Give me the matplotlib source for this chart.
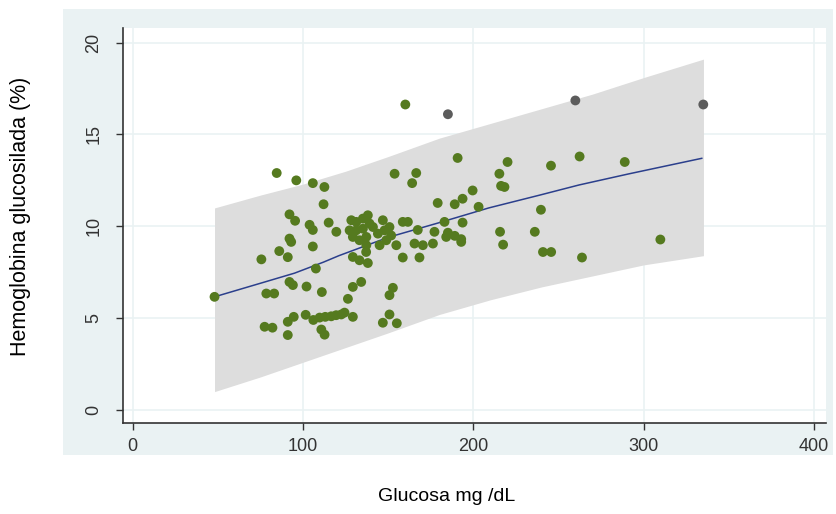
import numpy as np
import matplotlib.pyplot as plt
from matplotlib.patches import Rectangle

plt.rcParams['font.family'] = ['Liberation Sans', 'DejaVu Sans']

# puntos dentro del intervalo (verde)
glu_green = [48, 84.5, 96, 105.7, 112.5, 112, 92, 95.3, 103.8, 105.7, 115, 92, 93, 86, 105.7,
             75.5, 91, 107.5, 92, 94, 102, 111, 78.4, 83, 77.4, 82, 91, 91, 94.5, 101.5,
             106, 109.7, 113, 116.5, 119.4, 122.4, 124.3, 129.2, 110.7, 112.6, 146.8, 150.7,
             155, 126.3, 129.2, 134.1, 150.7, 152.7, 158.5, 168.3, 129.2, 133.1, 138, 137,
             153.7, 166.4, 164, 179, 119.5, 128.3, 131.2, 135.1, 138, 139, 127.3, 131.2,
             135.1, 141, 129.2, 133.1, 137.1, 143.9, 147.8, 150.7, 146.8, 151.7, 148.8,
             144.9, 137.1, 154.7, 158.5, 161.5, 167.3, 177.1, 165.4, 170.3, 176.2, 183, 184,
             190.7, 220, 215.2, 218.2, 216.2, 245.5, 262.3, 199.5, 189, 193.6, 203, 193.6,
             239.6, 185, 189, 192.8, 192.8, 215.6, 217.4, 236, 240.8, 245.6, 263.7, 288.8,
             309.7, 160]
hb_green = [6.16, 12.9, 12.5, 12.35, 12.14, 11.2, 10.65, 10.3, 10.08, 9.8, 10.2, 9.33, 9.15, 8.65, 8.9,
            8.2, 8.32, 7.7, 6.97, 6.8, 6.72, 6.42, 6.34, 6.34, 4.53, 4.48, 4.08, 4.8, 5.07, 5.18,
            4.9, 5.03, 5.07, 5.1, 5.16, 5.2, 5.3, 5.07, 4.38, 4.1, 4.75, 5.2,
            4.72, 6.05, 6.7, 6.97, 6.25, 6.65, 8.3, 8.3, 8.33, 8.15, 8.0, 8.6,
            12.86, 12.9, 12.35, 11.27, 9.7, 10.33, 10.24, 10.42, 10.6, 10.15, 9.78, 9.78,
            9.87, 9.96, 9.42, 9.24, 9.42, 9.6, 9.78, 9.96, 10.33, 9.5, 9.24,
            8.97, 8.97, 8.97, 10.24, 10.24, 9.8, 9.7, 9.06, 8.97, 9.06, 10.24, 9.42,
            13.72, 13.5, 12.86, 12.14, 12.2, 13.3, 13.8, 11.95, 11.2, 11.5, 11.06, 10.2,
            10.9, 9.65, 9.48, 9.3, 9.15, 9.7, 9.0, 9.7, 8.6, 8.6, 8.3, 13.5,
            9.28, 16.63]

# puntos fuera (gris)
glu_grey = [185, 259.8, 334.9]
hb_grey = [16.1, 16.85, 16.63]

# ajuste y banda de prediccion
glu_fit = [48, 75, 95, 112, 121, 150, 180, 209, 239, 262, 291, 334]
hb_fit = [6.16, 6.9, 7.45, 8.05, 8.4, 9.4, 10.2, 11.0, 11.7, 12.25, 12.85, 13.7]

glu_band = [48, 75, 100, 125, 150, 180, 210, 240, 270, 300, 335]
band_low = [1.0, 1.8, 2.6, 3.4, 4.2, 5.2, 6.0, 6.7, 7.3, 7.9, 8.4]
band_high = [11.0, 11.7, 12.3, 13.0, 13.8, 14.8, 15.6, 16.4, 17.2, 18.1, 19.1]

fig = plt.figure(figsize=(8.37, 5.14), dpi=100)
fig.patch.set_facecolor('white')
fig.patches.append(Rectangle((0.0753, 0.115), 0.92, 0.868, transform=fig.transFigure,
                             facecolor='#EAF2F3', edgecolor='none', zorder=0))

ax = fig.add_axes([0.147, 0.177, 0.84, 0.768])
ax.set_facecolor('white')
ax.set_zorder(1)

ax.fill_between(glu_band, band_low, band_high, color='#DDDDDD', linewidth=0, zorder=1)
ax.plot(glu_fit, hb_fit, color='#2B3F8C', linewidth=1.1, zorder=2)
ax.scatter(glu_green, hb_green, s=50, color='#557A1F', edgecolors='none', zorder=3)
ax.scatter(glu_grey, hb_grey, s=50, color='#5C5C5C', edgecolors='none', zorder=3)

ax.set_xlim(-5.7, 407)
ax.set_ylim(-0.71, 20.78)
ax.set_xticks([0, 100, 200, 300, 400])
ax.set_yticks([0, 5, 10, 15, 20])
ax.grid(True, color='#EAF2F3', linewidth=1.2, zorder=0)
ax.set_axisbelow(True)

for s in ['top', 'right']:
    ax.spines[s].set_visible(False)
for s in ['left', 'bottom']:
    ax.spines[s].set_color('#333333')
    ax.spines[s].set_linewidth(1.2)
ax.tick_params(colors='#333333', labelsize=13, length=5, width=1)
ax.tick_params(axis='x', pad=6)
ax.tick_params(axis='y', pad=10)
plt.setp(ax.get_yticklabels(), rotation=90, va='center')

fig.text(0.534, 0.035, 'Glucosa mg /dL', ha='center', va='center', fontsize=14)
fig.text(0.024, 0.58, 'Hemoglobina glucosilada (%)', ha='center', va='center',
         rotation=90, fontsize=15.5)

fig.savefig('out.png', dpi=100)
